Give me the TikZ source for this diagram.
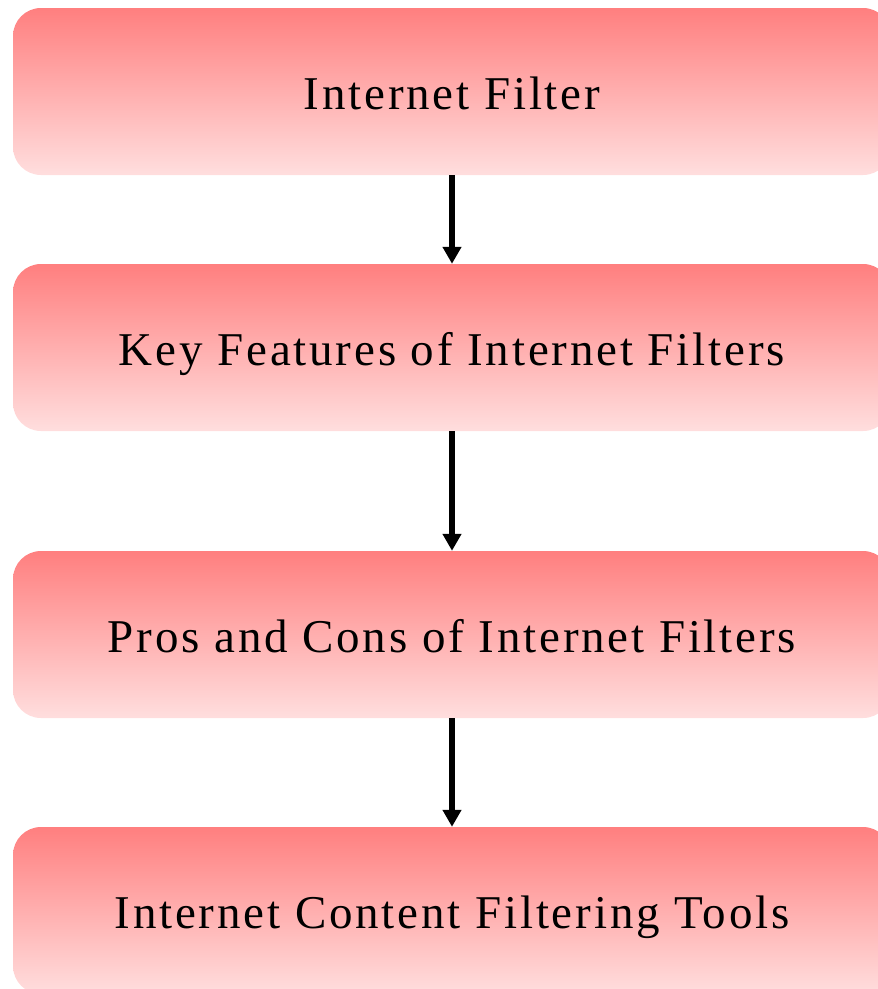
\documentclass[tikz,border=0pt]{standalone}
\usepackage{fontspec}
\usetikzlibrary{arrows.meta}
\newfontfamily\stagefont[LetterSpace=6]{Liberation Serif}
\definecolor{stagetop}{RGB}{255,127,127}
\definecolor{stagebottom}{RGB}{255,222,222}
\tikzset{stagebox/.style={rectangle, rounded corners=28pt,
      minimum width=878pt, minimum height=167pt, inner sep=0pt,
      text height=35pt, text depth=0pt,
      top color=stagetop, bottom color=stagebottom,
      font=\stagefont\fontsize{47}{56}\selectfont}}
\tikzset{flowarrow/.style={line width=5.5pt,
      -{Triangle[width=18pt,length=17pt]}}}

\begin{document}
\begin{tikzpicture}[x=1pt,y=-1pt]
		\useasboundingbox (0,0) rectangle (878,989);
		\clip (0,0) rectangle (878,989);
		\node[stagebox] (filter) at (452,91.5) {Internet Filter};
		\node[stagebox] (features) at (452,347.5) {Key Features of Internet Filters};
		\node[stagebox] (proscons) at (452,634.5) {Pros and Cons of Internet Filters};
		\node[stagebox] (tools) at (452,910.5) {Internet Content Filtering Tools};
		\draw[flowarrow] (filter) -- (features);
		\draw[flowarrow] (features) -- (proscons);
		\draw[flowarrow] (proscons) -- (tools);
\end{tikzpicture}
\end{document}
